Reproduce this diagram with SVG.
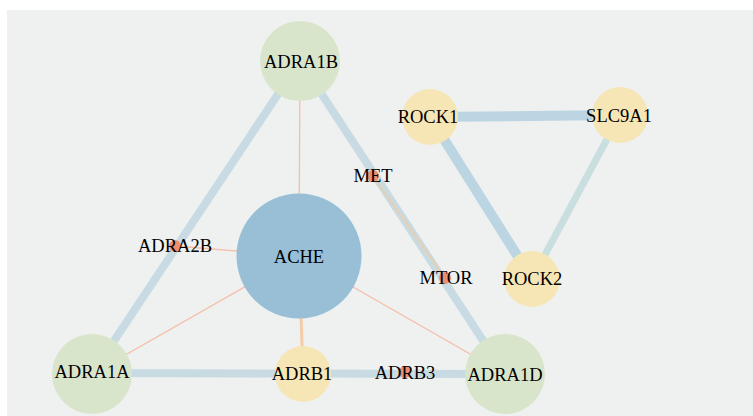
<svg xmlns="http://www.w3.org/2000/svg" width="753" height="416" viewBox="0 0 753 416">
<style>
.bg{fill:#eff0f0}
.e{fill:none;stroke-linecap:round}
.thick{stroke:#c8dbe2;stroke-width:8}
.blue{stroke:#bcd5e2;stroke-width:10}
.pale{stroke:#c9dedf;stroke-width:7}
.thin{stroke:#f5bea6;stroke-width:1.3}
.mid{stroke:#f5cba8;stroke-width:3}
.tan{stroke:#e8cfb2;stroke-width:2}
.green{fill:#d9e5cb}
.yellow{fill:#f7e6b5}
.ache{fill:#98bfd6}
.dot{fill:#ee8e6e}
text{font-family:"Liberation Serif","Times New Roman",serif;font-size:18.5px;fill:#000;text-anchor:middle}
</style>
<rect x="0" y="0" width="753" height="416" fill="#ffffff"/>
<rect class="bg" x="7" y="10" width="746" height="406"/>
<g id="connectors">
<line class="e thick" x1="300" y1="61" x2="92" y2="374"/>
<line class="e thick" x1="300" y1="61" x2="505" y2="374"/>
<line class="e thick" x1="92" y1="373" x2="505" y2="374"/>
<line class="e blue" x1="430" y1="117" x2="620" y2="115"/>
<line class="e blue" x1="430" y1="117" x2="532" y2="279"/>
<line class="e pale" x1="620" y1="115" x2="532" y2="279"/>
<line class="e thin" x1="300" y1="61" x2="299" y2="256"/>
<line class="e thin" x1="175" y1="246" x2="299" y2="256"/>
<line class="e thin" x1="92" y1="374" x2="299" y2="256"/>
<line class="e thin" x1="505" y1="374" x2="299" y2="256"/>
<line class="e mid" x1="299" y1="256" x2="303" y2="374"/>
<line class="e tan" x1="373" y1="176" x2="445" y2="278"/>
</g>
<g id="node-ADRA2B"><circle class="dot" cx="175" cy="246" r="6"/><text x="175" y="252">ADRA2B</text></g>
<g id="node-MET"><circle class="dot" cx="373" cy="176" r="6"/><text x="373" y="182">MET</text></g>
<g id="node-MTOR"><circle class="dot" cx="445" cy="278" r="6"/><text x="446" y="284">MTOR</text></g>
<g id="node-ADRB3"><circle class="dot" cx="405" cy="372" r="6"/><text x="405" y="379">ADRB3</text></g>
<g id="node-ADRA1B"><circle class="green" cx="300" cy="61" r="40"/><text x="301" y="68">ADRA1B</text></g>
<g id="node-ADRA1A"><circle class="green" cx="92" cy="374" r="40"/><text x="92" y="378">ADRA1A</text></g>
<g id="node-ADRA1D"><circle class="green" cx="505" cy="374" r="40"/><text x="505" y="381">ADRA1D</text></g>
<g id="node-ACHE"><circle class="ache" cx="299" cy="256" r="62.5"/><text x="299" y="263">ACHE</text></g>
<g id="node-ADRB1"><circle class="yellow" cx="303" cy="374" r="28"/><text x="302" y="380">ADRB1</text></g>
<g id="node-ROCK1"><circle class="yellow" cx="430" cy="117" r="28"/><text x="428" y="123">ROCK1</text></g>
<g id="node-SLC9A1"><circle class="yellow" cx="620" cy="115" r="28"/><text x="619" y="122">SLC9A1</text></g>
<g id="node-ROCK2"><circle class="yellow" cx="532" cy="279" r="28"/><text x="532" y="285">ROCK2</text></g>
</svg>
